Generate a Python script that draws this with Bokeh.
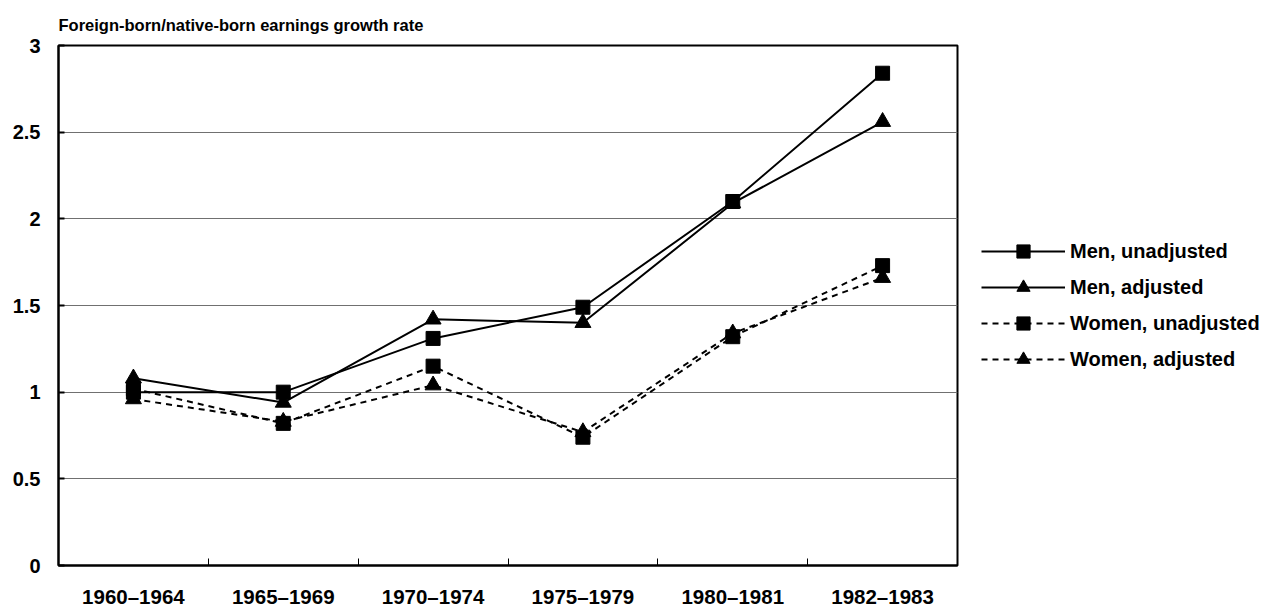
from bokeh.plotting import figure
from bokeh.models import Range1d, FixedTicker, Legend, LegendItem
from bokeh.embed import file_html
from bokeh.resources import INLINE

categories = ["1960\u20131964", "1965\u20131969", "1970\u20131974", "1975\u20131979", "1980\u20131981", "1982\u20131983"]
men_unadjusted = [1.00, 1.00, 1.31, 1.49, 2.10, 2.84]
men_adjusted = [1.08, 0.94, 1.42, 1.40, 2.09, 2.56]
women_unadjusted = [1.02, 0.82, 1.15, 0.74, 1.32, 1.73]
women_adjusted = [0.96, 0.83, 1.04, 0.77, 1.34, 1.66]
y_ticks = [0, 0.5, 1, 1.5, 2, 2.5, 3]
y_tick_labels = ["0", "0.5", "1", "1.5", "2", "2.5", "3"]

xs = [i + 0.5 for i in range(len(categories))]
FONT = "Liberation Sans"

p = figure(frame_width=899, frame_height=520, output_backend="svg", toolbar_location=None,
           x_range=Range1d(0, len(categories)), y_range=Range1d(0, 3),
           min_border_left=58, min_border_right=0, min_border_top=45, min_border_bottom=42)

p.title.text = "Foreign-born/native-born earnings growth rate"
p.title.text_font = FONT
p.title.text_font_size = "16.5px"
p.title.text_font_style = "bold"
p.title.text_color = "black"
p.title.align = "left"
p.title.standoff = 24

p.outline_line_color = "black"
p.outline_line_width = 2
p.background_fill_color = "white"
p.border_fill_color = "white"

# x axis
p.xaxis.ticker = FixedTicker(ticks=xs, minor_ticks=list(range(1, len(categories))))
p.xaxis.major_label_overrides = {x: c for x, c in zip(xs, categories)}
p.xaxis.major_tick_line_alpha = 0
p.xaxis.minor_tick_in = 7
p.xaxis.minor_tick_out = 0
p.xaxis.minor_tick_line_color = "black"
p.xaxis.minor_tick_line_width = 1
p.xaxis.axis_line_color = "black"
p.xaxis.axis_line_width = 2
p.xaxis.major_label_standoff = 13
p.xaxis.major_label_text_font = FONT
p.xaxis.major_label_text_font_size = "20.5px"
p.xaxis.major_label_text_font_style = "bold"
p.xaxis.major_label_text_color = "black"
p.xgrid.grid_line_color = None

# y axis
p.yaxis.ticker = FixedTicker(ticks=y_ticks, minor_ticks=[])
p.yaxis.major_label_overrides = {float(t): l for t, l in zip(y_ticks, y_tick_labels)}
p.yaxis.major_tick_in = 6
p.yaxis.major_tick_out = 0
p.yaxis.major_tick_line_color = "black"
p.yaxis.major_tick_line_width = 2
p.yaxis.minor_tick_line_alpha = 0
p.yaxis.axis_line_color = "black"
p.yaxis.axis_line_width = 2
p.yaxis.major_label_standoff = 18
p.yaxis.major_label_text_font = FONT
p.yaxis.major_label_text_font_size = "20px"
p.yaxis.major_label_text_font_style = "bold"
p.yaxis.major_label_text_color = "black"
p.ygrid.ticker = FixedTicker(ticks=y_ticks)
p.ygrid.grid_line_color = "#707070"
p.ygrid.grid_line_width = 1

series = [
    ("Men, unadjusted", men_unadjusted, "solid", "square", 14),
    ("Men, adjusted", men_adjusted, "solid", "triangle", 16),
    ("Women, unadjusted", women_unadjusted, "6 5", "square", 14),
    ("Women, adjusted", women_adjusted, "6 5", "triangle", 16),
]

items = []
for label, vals, dash, marker, size in series:
    lr = p.line(xs, vals, line_color="black", line_width=2, line_dash=dash)
    sr = p.scatter(xs, vals, marker=marker, size=size, fill_color="black", line_color="black")
    items.append(LegendItem(label=label, renderers=[lr, sr]))

legend = Legend(items=items, location="left", margin=24, padding=0,
                glyph_width=84, glyph_height=33, spacing=3, label_standoff=5,
                label_text_font=FONT, label_text_font_size="20px",
                label_text_font_style="bold", label_text_color="black",
                border_line_alpha=0, background_fill_alpha=0)
p.add_layout(legend, "right")

open("out.html", "w").write(file_html(p, INLINE))
